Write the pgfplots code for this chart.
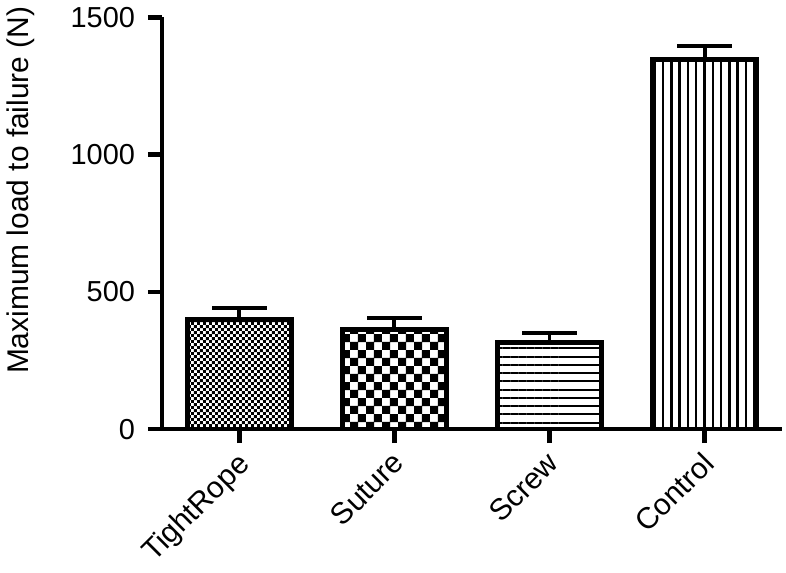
\documentclass[border=0pt]{standalone}
\usepackage{fontspec}
\setmainfont{Liberation Sans}
\usepackage{pgfplots}
\pgfplotsset{compat=1.18}
\usetikzlibrary{patterns}

% fill patterns of the four bars
\pgfdeclarepatternformonly{finechecker}{\pgfpointorigin}{\pgfpoint{3.2pt}{3.2pt}}{\pgfpoint{3.2pt}{3.2pt}}{
  \pgfpathrectangle{\pgfpointorigin}{\pgfpoint{1.6pt}{1.6pt}}
  \pgfpathrectangle{\pgfpoint{1.6pt}{1.6pt}}{\pgfpoint{1.6pt}{1.6pt}}
  \pgfusepath{fill}}
\pgfdeclarepatternformonly{coarsechecker}{\pgfpointorigin}{\pgfpoint{8pt}{8pt}}{\pgfpoint{8pt}{8pt}}{
  \pgfpathrectangle{\pgfpointorigin}{\pgfpoint{4.1pt}{4.1pt}}
  \pgfpathrectangle{\pgfpoint{3.9pt}{3.9pt}}{\pgfpoint{4.1pt}{4.1pt}}
  \pgfusepath{fill}}
\pgfdeclarepatternformonly{hlines}{\pgfpoint{0pt}{-1pt}}{\pgfpoint{4pt}{4.15pt}}{\pgfpoint{4pt}{4.15pt}}{
  \pgfpathrectangle{\pgfpoint{-0.5pt}{0pt}}{\pgfpoint{5pt}{1pt}}
  \pgfusepath{fill}}
\pgfdeclarepatternformonly{vlines}{\pgfpoint{-1pt}{0pt}}{\pgfpoint{4.15pt}{4pt}}{\pgfpoint{4.15pt}{4pt}}{
  \pgfpathrectangle{\pgfpoint{0pt}{-0.5pt}}{\pgfpoint{1.2pt}{5pt}}
  \pgfusepath{fill}}

\begin{document}
\begin{tikzpicture}
\begin{axis}[
    scale only axis,
    width=311pt, height=206.5pt,
    xmin=-0.5, xmax=3.5,
    ymin=0, ymax=1500,
    axis x line*=bottom,
    axis y line*=left,
    axis line style={line width=2.3pt},
    tick style={line width=2.3pt, black},
    tick align=outside,
    major tick length=7pt,
    xtick={0,1,2,3},
    xticklabels={TightRope,Suture,Screw,Control},
    xticklabel style={font=\fontsize{15}{18}\selectfont, anchor=north east, inner sep=1pt, xshift=-2pt, yshift=-2pt, rotate=45},
    ytick={0,500,1000,1500},
    yticklabel style={font=\fontsize{14.5}{17}\selectfont, xshift=-3pt},
    ylabel={Maximum load to failure (N)},
    ylabel style={at={(axis description cs:-0.228,0.58)}, anchor=center, font=\fontsize{15}{18}\selectfont},
    /pgf/number format/assume math mode=true,
    /pgf/number format/set thousands separator={},
    ybar, bar width=52pt,
    every axis plot/.append style={bar shift=0pt, draw=black, line width=2.5pt},
    error bars/y dir=plus,
    error bars/y explicit,
    error bars/error bar style={line width=2pt},
    error bars/error mark options={rotate=90, mark size=13.75pt, line width=2pt},
]
\addplot[pattern=finechecker] coordinates {(0,401) +- (0,40)};
\addplot[pattern=coarsechecker] coordinates {(1,364) +- (0,39)};
\addplot[pattern=hlines] coordinates {(2,316) +- (0,34)};
\addplot[pattern=vlines] coordinates {(3,1345) +- (0,50)};
\end{axis}
\path (current axis.south west) +(-80pt,-72pt);
\path (current axis.north east) +(2pt,8pt);
\end{tikzpicture}
\end{document}
